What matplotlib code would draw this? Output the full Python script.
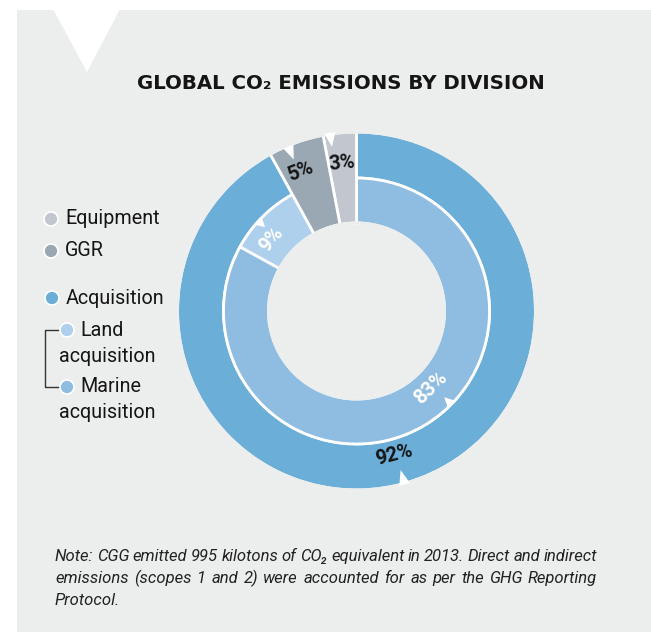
import numpy as np
import matplotlib
matplotlib.use("Agg")
import matplotlib.pyplot as plt
from matplotlib.patches import Polygon, Rectangle, Circle
from matplotlib.lines import Line2D

# ---------------- data ----------------
outer_labels = ["Equipment", "GGR", "Acquisition"]
outer_values = [3, 5, 92]
inner_labels = ["Land acquisition", "Marine acquisition"]
inner_values = [9, 83]
title = "GLOBAL CO₂ EMISSIONS BY DIVISION"
note_lines = [
    "Note: CGG emitted 995 kilotons of CO₂ equivalent in 2013. Direct and indirect",
    "emissions (scopes 1 and 2) were accounted for as per the GHG Reporting",
    "Protocol.",
]

# ---------------- style ----------------
W, H = 651, 632
BG = "#eceeed"
C_EQUIP = "#c1c6cf"
C_GGR = "#9aa8b3"
C_ACQ = "#6baed8"
C_LAND = "#afd0ec"
C_MARINE = "#8fbde1"
TXT = "#151515"
SANS = ["Roboto", "DejaVu Sans"]

fig = plt.figure(figsize=(W / 100, H / 100), dpi=100)
fig.patch.set_facecolor("white")
ax = fig.add_axes([0, 0, 1, 1])


def Y(y):  # pixel-from-top -> data y
    return H - y


# panel and notch
ax.add_patch(Rectangle((17, 0), W - 17, H - 10, facecolor=BG, edgecolor="none", zorder=0))
ax.add_patch(Polygon([(53, Y(9)), (120, Y(9)), (87, Y(72))], closed=True,
                     facecolor="white", edgecolor="none", zorder=1))

cx, cy = 356.5, Y(311)
R_OUT, R_MID, R_IN = 179, 133, 88
EDGE = dict(edgecolor="white", linewidth=2.0)
total = sum(outer_values)

# outer ring: full-depth wedges for Equipment and GGR, ring for Acquisition
wo, _ = ax.pie(outer_values, colors=[C_EQUIP, C_GGR, C_ACQ], startangle=90,
               counterclock=True, center=(cx, cy), radius=R_OUT, frame=True,
               wedgeprops=dict(width=R_OUT - R_MID, **EDGE))
for w in wo[:2]:
    w.set_width(R_OUT - R_IN)
    w.set_zorder(3)

# inner ring: Land and Marine, starting after Equipment+GGR
offset = sum(outer_values[:2])
inner_start = 90 + offset * 360 / total
wi, _ = ax.pie([v / total for v in inner_values], colors=[C_LAND, C_MARINE],
               startangle=inner_start, counterclock=True, center=(cx, cy),
               radius=R_MID, frame=True, normalize=False,
               wedgeprops=dict(width=R_MID - R_IN, **EDGE))
for w in wi:
    w.set_zorder(2)

# hide the white outline on the outer rim and around the hole
for r in (R_OUT, R_IN):
    ax.add_patch(Circle((cx, cy), r, facecolor="none", edgecolor=BG, linewidth=2.2, zorder=4))

ax.set_xlim(0, W)
ax.set_ylim(0, H)
ax.set_aspect("equal")
ax.axis("off")


def polar(r, ang):
    a = np.deg2rad(ang)
    return cx + r * np.cos(a), cy + r * np.sin(a)


def notch(r, ang, depth=11, half=5.5):
    a = np.deg2rad(ang)
    ux, uy = np.cos(a), np.sin(a)
    tx, ty = -uy, ux
    bx, by = cx + (r + 2) * ux, cy + (r + 2) * uy
    px, py = cx + (r - depth) * ux, cy + (r - depth) * uy
    ax.add_patch(Polygon([(bx + half * tx, by + half * ty), (bx - half * tx, by - half * ty), (px, py)],
                         closed=True, facecolor="white", edgecolor="none", zorder=5))


def tang_rot(ang):
    a = ang % 360
    return a - 90 if a <= 180 else a - 270


# percentage labels (angle, radius are layout)
label_specs = [
    (f"{outer_values[0]}%", 95.5, 148, TXT, (98.5, R_OUT - 1, 12)),
    (f"{outer_values[1]}%", 111.5, 150, TXT, (112.5, R_OUT - 3, 12)),
    (f"{outer_values[2]}%", 284.4, 149, TXT, (285.5, R_OUT - 1, 13)),
    (f"{inner_values[0]}%", 140.0, 111, "white", (137.5, R_MID - 1, 8)),
    (f"{inner_values[1]}%", 314.2, 107, "white", (315.5, R_MID - 1, 9)),
]
for txt, ang, r, col, (nang, nr, nd) in label_specs:
    notch(nr, nang, depth=nd)
    x, y = polar(r, ang)
    ax.text(x, y, txt, ha="center", va="center", rotation=tang_rot(ang),
            fontsize=14.5, fontweight="bold", color=col, family=SANS, zorder=6)

# title
ax.text(341, Y(89), title, ha="center", va="baseline", fontsize=14.2, fontweight="bold",
        color=TXT, family=["DejaVu Sans"])

# legend
leg = [
    (51, 219, C_EQUIP, [(65, 219, outer_labels[0])]),
    (51, 251, C_GGR, [(65, 251, outer_labels[1])]),
    (52, 298, C_ACQ, [(66, 298, outer_labels[2])]),
    (67, 330, C_LAND, [(80, 330, inner_labels[0].split()[0]), (59, 356, inner_labels[0].split()[1])]),
    (67, 387, C_MARINE, [(80, 387, inner_labels[1].split()[0]), (59, 413, inner_labels[1].split()[1])]),
]
for mx, my, col, texts in leg:
    ax.add_patch(Circle((mx, Y(my)), 7, facecolor=col, edgecolor="white", linewidth=1.2, zorder=4))
    for tx, ty, t in texts:
        ax.text(tx, Y(ty), t, ha="left", va="center", fontsize=14.2, color=TXT, family=SANS)

ax.add_line(Line2D([59, 45, 45, 59], [Y(330), Y(330), Y(387), Y(387)],
                   color="#333333", linewidth=1.0, zorder=3))

# note (justified)
NOTE_FAM = ["Liberation Sans Narrow", "Roboto", "DejaVu Sans"]
x0, x1 = 55, 597
line_base = [561, 583, 605]
fig.canvas.draw()
renderer = fig.canvas.get_renderer()


def width_of(s, fs):
    t = ax.text(0, 0, s, fontsize=fs, style="italic", family=NOTE_FAM)
    bb = t.get_window_extent(renderer=renderer)
    t.remove()
    return bb.width


# choose the largest size at which every full line fits with a minimum gap
fs = 13.0
sp_min = 3.0
while fs > 8:
    ok = True
    for line in note_lines[:-1]:
        words = line.split(" ")
        if sum(width_of(w, fs) for w in words) + sp_min * (len(words) - 1) > (x1 - x0):
            ok = False
            break
    if ok:
        break
    fs -= 0.25

note_kw = dict(fontsize=fs, style="italic", color="#222222", family=NOTE_FAM, va="baseline")
for i, (line, ly) in enumerate(zip(note_lines, line_base)):
    words = line.split(" ")
    if i < len(note_lines) - 1 and len(words) > 1:
        widths = [width_of(w, fs) for w in words]
        gap = (x1 - x0 - sum(widths)) / (len(words) - 1)
        x = x0
        for w, wd in zip(words, widths):
            ax.text(x, Y(ly), w, ha="left", **note_kw)
            x += wd + gap
    else:
        ax.text(x0, Y(ly), line, ha="left", **note_kw)

fig.savefig("out.png", dpi=100, facecolor="white")
